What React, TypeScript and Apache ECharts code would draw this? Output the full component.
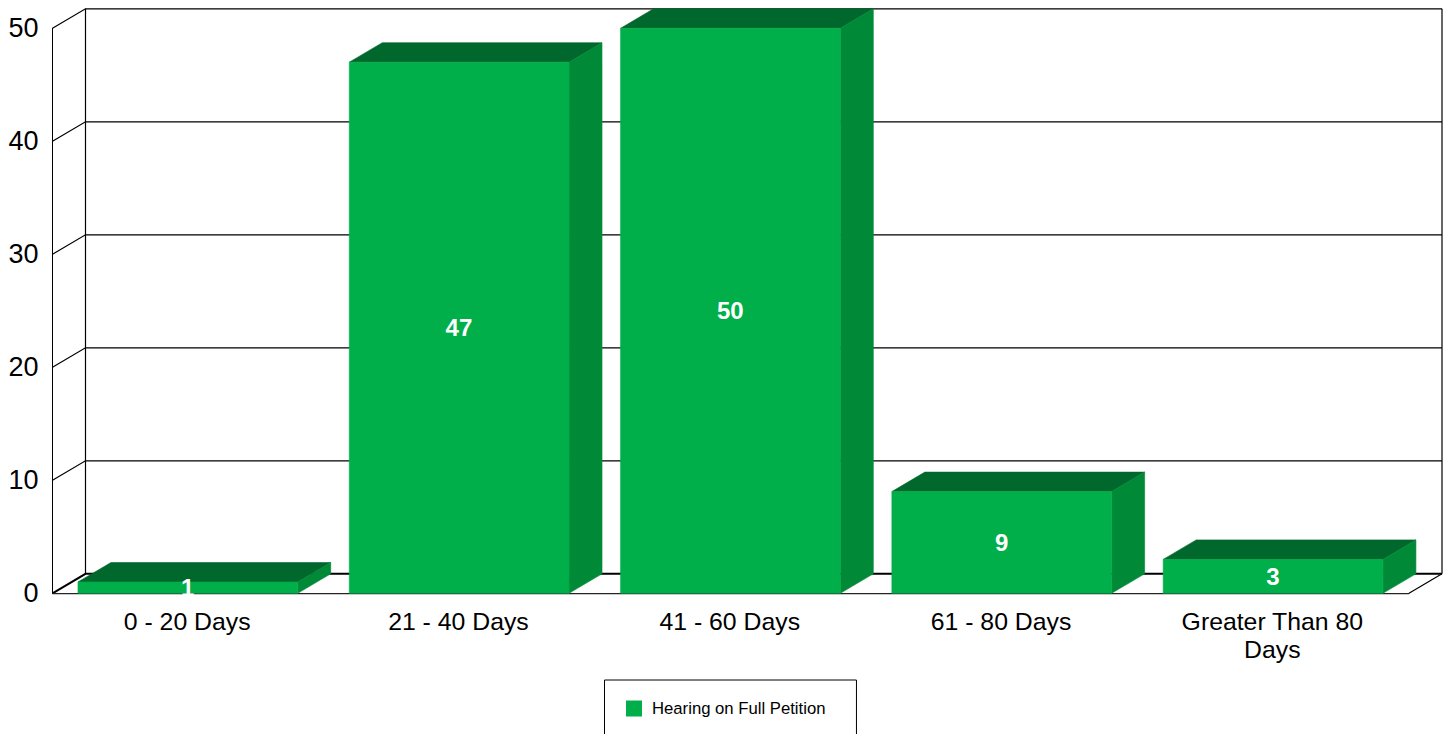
import React, { useEffect, useRef } from "react";
import * as echarts from "echarts";

const categories = ["0 - 20 Days", "21 - 40 Days", "41 - 60 Days", "61 - 80 Days", "Greater Than 80\nDays"];
const seriesName = "Hearing on Full Petition";
const values = [1, 47, 50, 9, 3];
const yTicks = [0, 10, 20, 30, 40, 50];

const DX = 33;
const DY = -19.5;
const BAR_FRACTION = 0.81;
const FRONT = "#00AE4A";
const TOP = "#00682C";
const SIDE = "#008A38";
const FONT = "Arial, 'Liberation Sans', sans-serif";
const yMax = 50;
const lastCat = categories.length - 1;

function renderFrame(params: any, api: any) {
  const v = api.value(0);
  const band = api.size([1, 0])[0];
  const [cx0, y] = api.coord([0, v]);
  const [cx1] = api.coord([lastCat, v]);
  const left = cx0 - band / 2;
  const right = cx1 + band / 2;
  const base = { stroke: "#000", lineWidth: v === 0 ? 2 : 1.2, fill: "none" };
  const children: any[] = [
    {
      type: "polyline",
      shape: { points: [[left, y], [left + DX, y + DY], [right + DX, y + DY]] },
      style: base,
    },
  ];
  if (v === 0) {
    const topY = api.coord([0, yMax])[1] + DY;
    const thin = { stroke: "#000", lineWidth: 1.2, fill: "none" };
    children.push(
      { type: "line", shape: { x1: left + DX, y1: y + DY, x2: left + DX, y2: topY }, style: thin },
      { type: "line", shape: { x1: right + DX, y1: y + DY, x2: right + DX, y2: topY }, style: thin },
      { type: "line", shape: { x1: right, y1: y, x2: right + DX, y2: y + DY }, style: thin },
      { type: "line", shape: { x1: left, y1: y + 1, x2: right, y2: y + 1 }, style: { stroke: "#bbb", lineWidth: 1 } }
    );
  }
  return { type: "group", children };
}

function renderBar(params: any, api: any) {
  const i = api.value(0);
  const v = api.value(1);
  const band = api.size([1, 0])[0];
  const w = band * BAR_FRACTION;
  const [cx, yTop] = api.coord([i, v]);
  const [, yBase] = api.coord([i, 0]);
  const l = cx - w / 2 - 0.3;
  const r = cx + w / 2 - 0.3;
  return {
    type: "group",
    children: [
      {
        type: "polygon",
        shape: { points: [[l, yTop], [l + DX, yTop + DY], [r + DX, yTop + DY], [r, yTop]] },
        style: { fill: TOP, stroke: TOP, lineWidth: 0.6 },
      },
      {
        type: "polygon",
        shape: { points: [[r, yTop], [r + DX, yTop + DY], [r + DX, yBase + DY], [r, yBase]] },
        style: { fill: SIDE, stroke: SIDE, lineWidth: 0.6 },
      },
      {
        type: "rect",
        shape: { x: l, y: yTop, width: w, height: yBase - yTop },
        style: { fill: FRONT, stroke: FRONT, lineWidth: 0.6 },
      },
      {
        type: "text",
        x: cx - 0.5,
        y: (yTop + yBase) / 2,
        style: {
          text: String(v),
          fill: "#fff",
          font: `bold 24px ${FONT}`,
          align: "center",
          verticalAlign: "middle",
        },
      },
    ],
  };
}

export default function App() {
  const ref = useRef<HTMLDivElement>(null);
  useEffect(() => {
    const chart = echarts.init(ref.current!, null, { renderer: "svg" });
    chart.setOption({
      animation: false,
      backgroundColor: "#fff",
      textStyle: { fontFamily: FONT },
      grid: { left: 52.5, top: 28.3, width: 1356.5, height: 565, containLabel: false },
      legend: {
        left: 604.5,
        top: 680,
        orient: "horizontal",
        data: [{ name: seriesName, icon: "rect", itemStyle: { color: FRONT } }],
        itemWidth: 16,
        itemHeight: 16,
        itemGap: 0,
        padding: [20, 31, 40, 21.5],
        borderColor: "#000",
        borderWidth: 1,
        selectedMode: false,
        textStyle: { color: "#000", fontSize: 16.7, fontFamily: FONT, padding: [0, 0, 0, 5] },
      },
      xAxis: {
        type: "category",
        data: categories,
        axisTick: { show: false },
        axisLine: { show: true, lineStyle: { color: "#000", width: 1 } },
        axisLabel: {
          interval: 0,
          color: "#000",
          fontSize: 24.8,
          fontFamily: FONT,
          margin: 14,
          lineHeight: 28,
          padding: [0, 2, 0, 0],
        },
      },
      yAxis: {
        type: "value",
        min: 0,
        max: yMax,
        interval: 10,
        splitLine: { show: false },
        axisTick: { show: false },
        axisLine: { show: true, lineStyle: { color: "#000", width: 1 } },
        axisLabel: { color: "#000", fontSize: 27, fontFamily: FONT, margin: 14, padding: [4, 0, 0, 0] },
      },
      series: [
        {
          type: "custom",
          name: "frame",
          silent: true,
          z: 1,
          data: yTicks.map((t) => [t]),
          encode: { y: 0 },
          renderItem: renderFrame,
        },
        {
          type: "custom",
          name: seriesName,
          z: 2,
          itemStyle: { color: FRONT },
          data: values.map((v, i) => [i, v]),
          encode: { x: 0, y: 1 },
          renderItem: renderBar,
        },
      ],
    });
    return () => chart.dispose();
  }, []);
  return <div ref={ref} style={{ position: "absolute", left: 0, top: 0, width: 1446, height: 734 }} />;
}
